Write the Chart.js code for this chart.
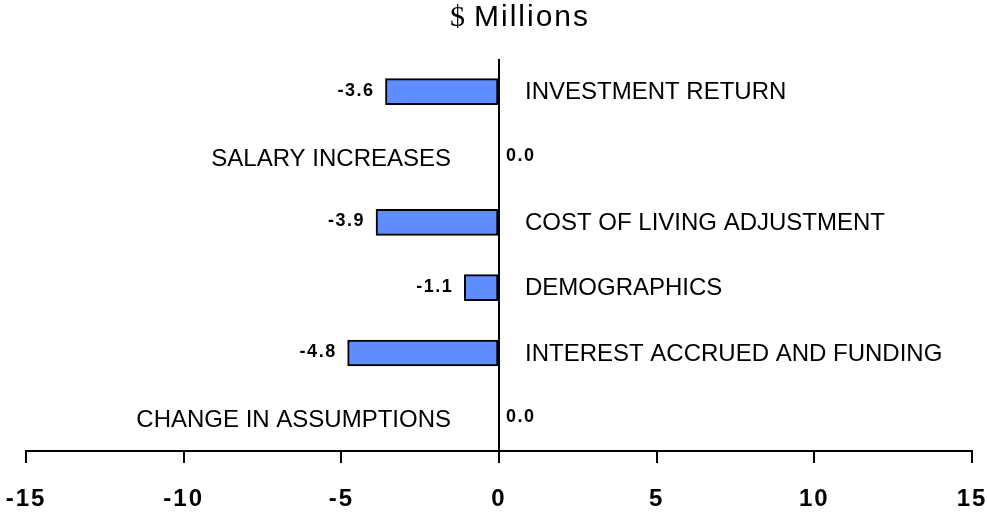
<!DOCTYPE html>
<html>
<head>
<meta charset="utf-8">
<script src="https://cdn.jsdelivr.net/npm/chart.js@4.4.0/dist/chart.umd.min.js"></script>
<style>
  html, body { margin: 0; padding: 0; background: #fff; }
  #wrap { width: 987px; height: 512px; }
</style>
</head>
<body>
<div id="wrap"><canvas id="myChart" width="987" height="512"></canvas></div>
<script>
// Datos
const categorias = [
  "INVESTMENT RETURN",
  "SALARY INCREASES",
  "COST OF LIVING ADJUSTMENT",
  "DEMOGRAPHICS",
  "INTEREST ACCRUED AND FUNDING",
  "CHANGE IN ASSUMPTIONS"
];
const valores = [-3.6, 0.0, -3.9, -1.1, -4.8, 0.0];
const ejeMin = -15;
const ejeMax = 15;
const ejePaso = 5;
const titulo = "Millions";

// Plugin para titulo y etiquetas
const etiquetas = {
  id: "etiquetas",
  beforeDraw(chart) {
    chart.ctx.letterSpacing = "2px";
  },
  afterDatasetsDraw(chart) {
    const ctx = chart.ctx;
    const x = chart.scales.x;
    const y = chart.scales.y;
    const x0 = x.getPixelForValue(0);
    ctx.save();
    ctx.fillStyle = "#000";
    ctx.textBaseline = "middle";

    valores.forEach((v, i) => {
      const yc = y.getPixelForValue(i);
      // nombre de la categoria
      ctx.letterSpacing = "0px";
      ctx.font = "24px Arial, 'Liberation Sans'";
      if (v < 0) {
        ctx.textAlign = "left";
        ctx.fillText(categorias[i], x0 + 26, yc + 1);
      } else {
        ctx.textAlign = "right";
        ctx.fillText(categorias[i], x0 - 48, yc + 2);
      }
      // valor
      ctx.letterSpacing = "1.5px";
      ctx.font = "bold 18px Arial, 'Liberation Sans'";
      const txt = v.toFixed(1);
      if (v < 0) {
        ctx.textAlign = "right";
        ctx.fillText(txt, x.getPixelForValue(v) - 11, yc - 1);
      } else {
        ctx.textAlign = "left";
        ctx.fillText(txt, x0 + 7, yc - 1);
      }
    });

    // titulo
    ctx.letterSpacing = "0px";
    ctx.textAlign = "left";
    ctx.font = "30px 'Liberation Serif', serif";
    ctx.fillText("$", 450, 18);
    ctx.letterSpacing = "2px";
    ctx.font = "30px Arial, 'Liberation Sans'";
    ctx.fillText(titulo, 474, 18);
    ctx.restore();
  }
};

const config = {
  type: "bar",
  data: {
    labels: categorias,
    datasets: [{
      data: valores,
      backgroundColor: "#5F8CFF",
      borderColor: "#000",
      borderWidth: 2,
      borderSkipped: false,
      barThickness: 26
    }]
  },
  options: {
    indexAxis: "y",
    responsive: false,
    animation: false,
    layout: { autoPadding: false, padding: { top: 59, left: 26, right: 15, bottom: 0 } },
    plugins: {
      legend: { display: false },
      tooltip: { enabled: false }
    },
    scales: {
      x: {
        min: ejeMin,
        max: ejeMax,
        afterFit: (s) => {
          s.height = 61;
          s.paddingLeft = 0;
          s.paddingRight = 0;
        },
        ticks: {
          stepSize: ejePaso,
          color: "#000",
          padding: 22,
          maxRotation: 0,
          font: { family: "Arial, 'Liberation Sans'", size: 24, weight: "bold" }
        },
        grid: {
          color: (c) => (c.tick && c.tick.value === 0 ? "#000" : "rgba(0,0,0,0)"),
          lineWidth: 2,
          tickColor: "#000",
          tickLength: 12,
          drawOnChartArea: true
        },
        border: { display: true, color: "#000", width: 2 }
      },
      y: {
        display: false
      }
    }
  },
  plugins: [etiquetas]
};

new Chart(document.getElementById("myChart").getContext("2d"), config);
</script>
</body>
</html>
